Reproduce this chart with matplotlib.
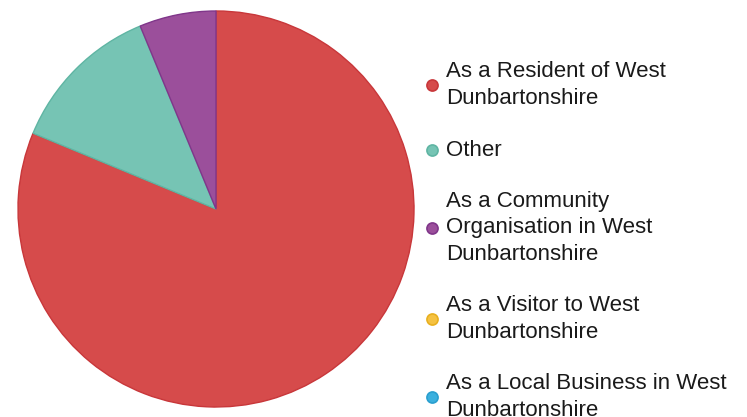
import matplotlib.pyplot as plt

# Respondent type counts
labels = ['As a Resident of West\nDunbartonshire',
          'Other',
          'As a Community\nOrganisation in West\nDunbartonshire',
          'As a Visitor to West\nDunbartonshire',
          'As a Local Business in West\nDunbartonshire']
counts = [13, 2, 1, 0, 0]
colors = ['#d64b4b', '#76c4b4', '#9b4f9b', '#f5c242', '#3bb0de']
edges = ['#c8373a', '#5fb5a3', '#80368a', '#e8b020', '#2a9fcf']

plt.rcParams['font.family'] = ['Liberation Sans', 'DejaVu Sans']

fig = plt.figure(figsize=(7.47, 4.17), dpi=100)
ax = fig.add_axes([17 / 747, 9 / 417, 398 / 747, 398 / 417])

wedges, _ = ax.pie(counts, colors=colors, startangle=90, counterclock=False,
                   radius=1, wedgeprops=dict(linewidth=1))
for w, ec, n in zip(wedges, edges, counts):
    # empty categories get no slice outline
    w.set_edgecolor(ec if n > 0 else 'none')
ax.set_xlim(-1.005, 1.005)
ax.set_ylim(-1.005, 1.005)
ax.set_aspect('equal')
ax.axis('off')

# legend drawn by hand: one blank line between entries
line_h = 26 / 417
y = 1 - 72 / 417
for lab, c, ec in zip(labels, colors, edges):
    n = lab.count('\n') + 1
    yc = y - (n - 1) * line_h / 2
    fig.text(446 / 747, yc, lab, fontsize=16, va='center', ha='left',
             linespacing=1.33, color='#1a1a1a')
    fig.add_artist(plt.Line2D([432 / 747], [yc], marker='o', markersize=8,
                              markerfacecolor=c, markeredgecolor=ec,
                              markeredgewidth=1.2, transform=fig.transFigure))
    y -= (n + 1) * line_h

fig.savefig('out.png', dpi=100)
